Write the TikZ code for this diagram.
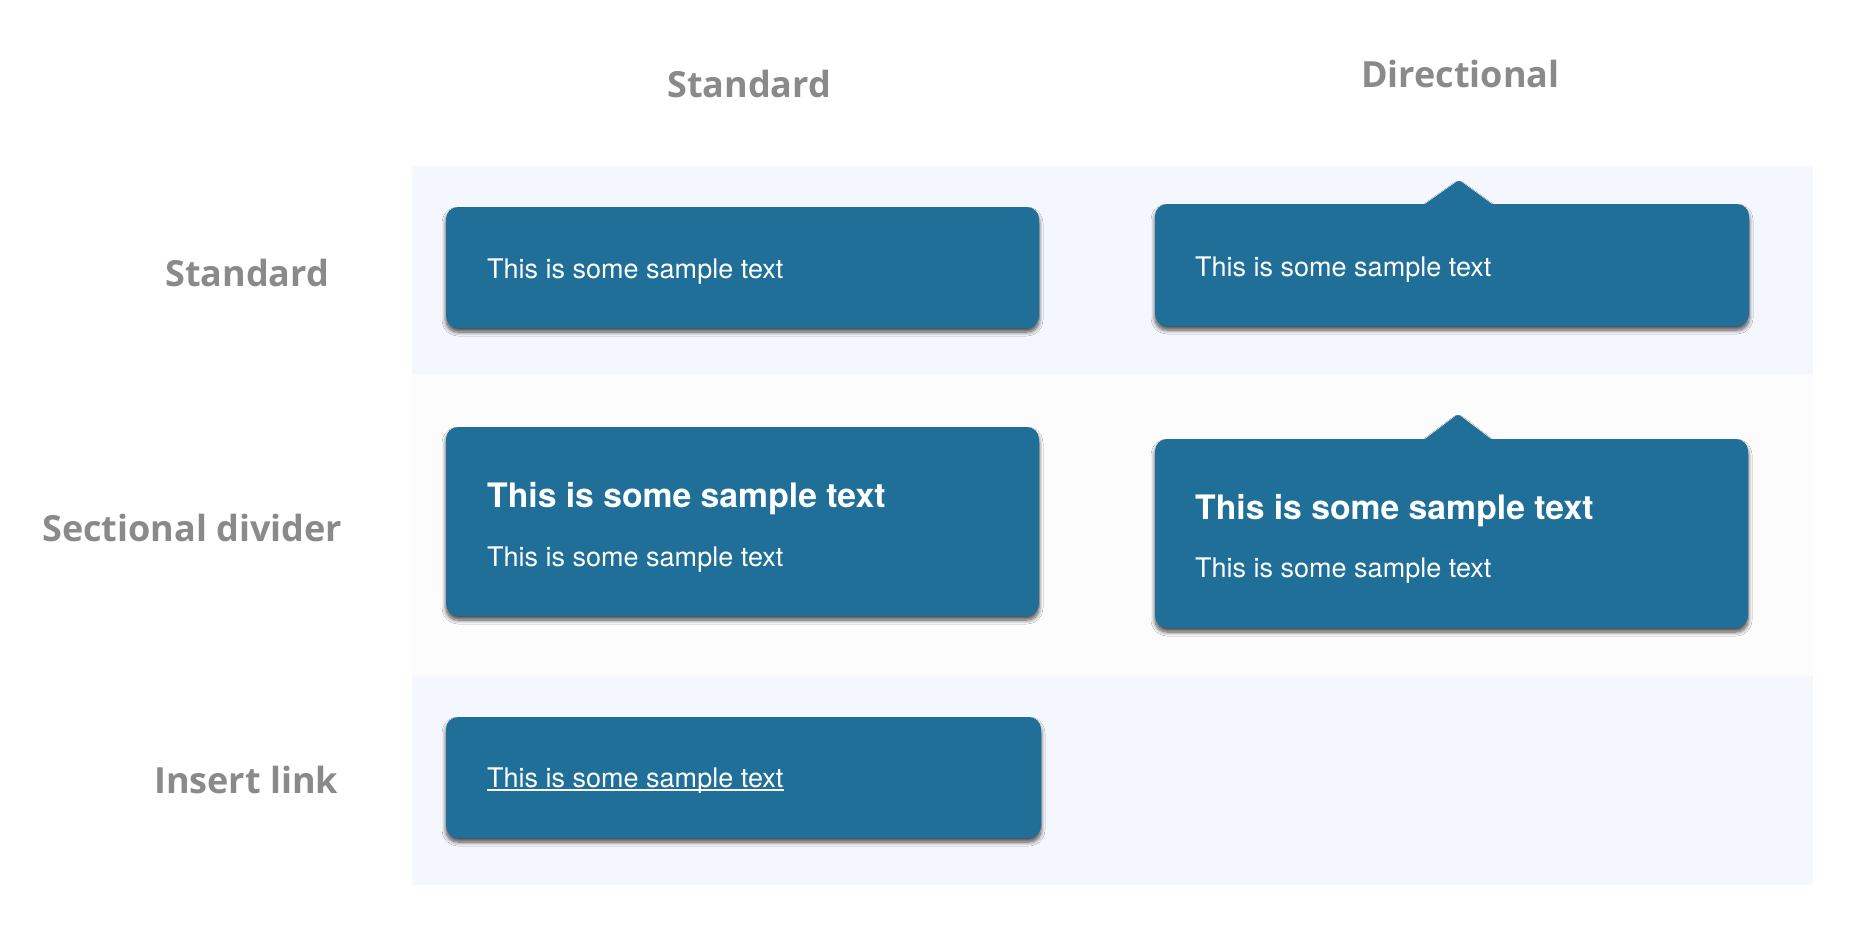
\documentclass[tikz,border=0pt]{standalone}
\usepackage{fontspec}
\setmainfont{TeX Gyre Heros}
\newfontfamily\headfont{Open Sans}
\usetikzlibrary{shadows.blur}
\definecolor{tipblue}{HTML}{1F6F99}
\definecolor{labelgray}{HTML}{8A8A8A}
\definecolor{bandblue}{HTML}{F4F7FD}
\definecolor{bandgray}{HTML}{FCFCFD}
\tikzset{
  tipbox/.style={fill=tipblue, rounded corners=12pt,
    blur shadow={shadow xshift=0pt, shadow yshift=-4pt, shadow blur radius=4pt, shadow blur steps=8, shadow opacity=70}},
  headlabel/.style={font=\headfont\bfseries\fontsize{36}{40}\selectfont, text=labelgray, anchor=base west, inner sep=0pt},
  tiptext/.style={font=\fontsize{27}{32}\selectfont, text=white, anchor=base west, inner sep=0pt},
  tiptitle/.style={tiptext, font=\bfseries\fontsize{33.7}{38}\selectfont}
}
\begin{document}
\begin{tikzpicture}[x=1pt, y=-1pt]
  \useasboundingbox[fill=white] (0,0) rectangle (1856,935);

  % Bands
  \fill[bandblue] (412,166) rectangle (1813,374);
  \fill[bandgray] (412,374) rectangle (1813,676);
  \fill[bandblue] (412,676) rectangle (1813,885);

  % Headers
  \node[headlabel] (colstd) at (667,97) {Standard};
  \node[headlabel] (coldir) at (1361,87) {Directional};
  \node[headlabel] (rowstd) at (165,286) {Standard};
  \node[headlabel] (rowsec) at (42,541) {Sectional divider};
  \node[headlabel] (rowlink) at (154,793) {Insert link};

  % Standard tooltips
  \path[tipbox] (446,207) rectangle (1039,328);
  \node[tiptext] (stdtext) at (487,278) {This is some sample text};

  \path[tipbox] (446,427) rectangle (1039,616);
  \node[tiptitle] (sectitle) at (487,507) {This is some sample text};
  \node[tiptext] (sectext) at (487,566) {This is some sample text};

  \path[tipbox] (446,717) rectangle (1041,838);
  \node[tiptext] (linktext) at (487,787) {This is some sample text};
  \draw[white, line width=1.6pt] ([yshift=-3pt]linktext.base west) -- ([yshift=-3pt]linktext.base east);

  % Directional tooltips
  \path[tipbox] (1155,265) -- (1155,204) [sharp corners] -- (1425,204) [rounded corners=3pt] -- (1459,180)
    [sharp corners] -- (1492,204) [rounded corners=12pt] -- (1749,204) -- (1749,326) -- (1155,326) -- cycle;
  \node[tiptext] (dirtext) at (1195,276) {This is some sample text};

  \path[tipbox] (1155,533) -- (1155,439) [sharp corners] -- (1425,439) [rounded corners=3pt] -- (1458,414)
    [sharp corners] -- (1491,439) [rounded corners=12pt] -- (1748,439) -- (1748,628) -- (1155,628) -- cycle;
  \node[tiptitle] (dirtitle) at (1195,519) {This is some sample text};
  \node[tiptext] (dirsub) at (1195,577) {This is some sample text};
\end{tikzpicture}
\end{document}
